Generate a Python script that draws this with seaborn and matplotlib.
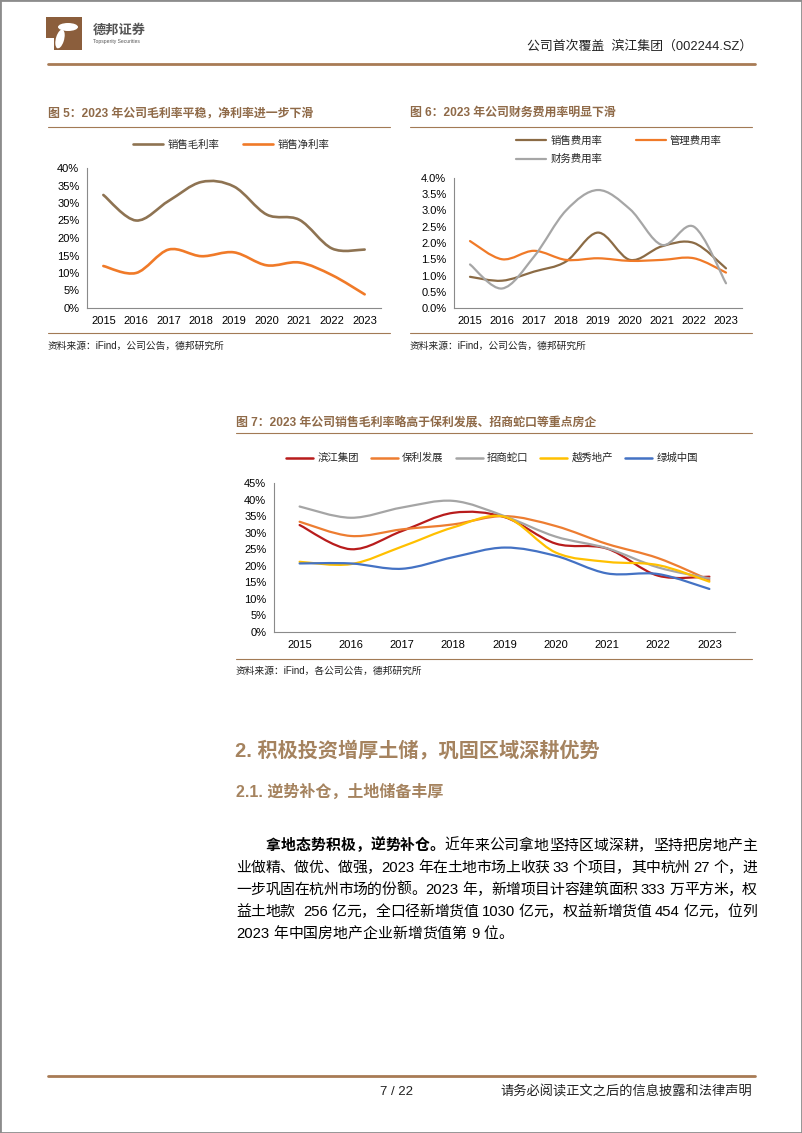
import re
import numpy as np
import pandas as pd
import seaborn as sns
import matplotlib.pyplot as plt
from matplotlib.lines import Line2D
from matplotlib.patches import Rectangle, Ellipse
from matplotlib.path import Path
from matplotlib.patheffects import AbstractPathEffect
from matplotlib.transforms import IdentityTransform
from matplotlib.ticker import FuncFormatter

# ---- data ----
years = [2015, 2016, 2017, 2018, 2019, 2020, 2021, 2022, 2023]

# fig 5: margins (%)
gross_margin = [32.3, 25.0, 30.6, 36.0, 34.7, 26.7, 25.2, 17.0, 16.7]
net_margin = [12.0, 10.0, 16.7, 14.8, 15.9, 12.2, 13.0, 9.4, 3.9]

# fig 6: expense ratios (%)
selling_exp = [0.96, 0.84, 1.12, 1.43, 2.32, 1.48, 1.90, 2.00, 1.22]
admin_exp = [2.06, 1.50, 1.76, 1.48, 1.53, 1.45, 1.48, 1.53, 1.09]
finance_exp = [1.34, 0.60, 1.58, 3.00, 3.63, 3.04, 1.94, 2.50, 0.76]

# fig 7: gross margin of peers (%)
binjiang = [32.3, 25.0, 30.5, 36.0, 34.7, 26.7, 25.2, 17.0, 16.7]
poly = [33.3, 29.0, 31.0, 32.5, 35.0, 32.0, 26.6, 22.3, 15.7]
cmsk = [37.9, 34.5, 37.6, 39.6, 35.0, 28.8, 25.3, 19.5, 16.2]
yuexiu = [21.2, 20.5, 25.8, 31.6, 34.8, 24.0, 21.2, 20.2, 15.2]
greentown = [20.7, 20.7, 19.1, 22.6, 25.5, 23.0, 17.7, 17.5, 13.0]

fig5_names = ['销售毛利率', '销售净利率']
fig6_names = ['销售费用率', '管理费用率', '财务费用率']
fig7_names = ['滨江集团', '保利发展', '招商蛇口', '越秀地产', '绿城中国']

BROWN = '#A27A55'
TITLE_C = '#8F6A48'
HEAD_C = '#A5835F'

sns.set_style('white')
plt.rcParams['font.family'] = ['Liberation Sans', 'Noto Sans CJK SC', 'DejaVu Sans']


class Smooth(AbstractPathEffect):
    """Draw a polyline as an Excel-like smoothed curve (Catmull-Rom Bezier)."""
    def draw_path(self, renderer, gc, tpath, affine, rgbFace=None):
        pts = affine.transform(tpath.vertices)
        n = len(pts)
        if n < 3:
            renderer.draw_path(gc, tpath, affine, rgbFace)
            return
        verts = [pts[0]]
        codes = [Path.MOVETO]
        for i in range(n - 1):
            p0 = pts[max(i - 1, 0)]
            p1 = pts[i]
            p2 = pts[i + 1]
            p3 = pts[min(i + 2, n - 1)]
            verts += [p1 + (p2 - p0) / 6, p2 - (p3 - p1) / 6, p2]
            codes += [Path.CURVE4] * 3
        renderer.draw_path(gc, Path(np.array(verts), codes), IdentityTransform(), rgbFace)


W, H = 802, 1133
fig = plt.figure(figsize=(W / 100, H / 100), dpi=100)
renderer = fig.canvas.get_renderer()


def fx(px):
    return px / W


def fy(py):
    return 1 - py / H


def rule(y, x0, x1, color=BROWN, lw=0.8):
    fig.add_artist(Line2D([fx(x0), fx(x1)], [fy(y), fy(y)], color=color, lw=lw,
                          transform=fig.transFigure))


def style_axes(ax, ymax, ystep, fmt):
    ax.set_xlim(years[0] - 0.5, years[-1] + 0.5)
    ax.set_ylim(0, ymax)
    ax.set_yticks(np.arange(0, ymax + ystep / 2, ystep))
    ax.yaxis.set_major_formatter(FuncFormatter(lambda v, p: fmt % v))
    ax.set_xticks(years)
    ax.set_xticks([y + 0.5 for y in years], minor=True)
    ax.tick_params(axis='x', which='major', length=0, pad=6, labelsize=8, colors='black')
    ax.tick_params(axis='x', which='minor', length=3, direction='in', color='#8a8a8a', width=0.7)
    ax.tick_params(axis='y', length=3, direction='out', pad=2.5, labelsize=8,
                   color='#8a8a8a', width=0.7, labelcolor='black')
    ax.set_xlabel('')
    ax.set_ylabel('')
    sns.despine(ax=ax)
    for s in ['left', 'bottom']:
        ax.spines[s].set_color('#8a8a8a')
        ax.spines[s].set_linewidth(0.8)
    for ln in ax.lines:
        ln.set_path_effects([Smooth()])
        ln.set_solid_capstyle('round')


def draw_lines(ax, names, series, colors, lw):
    df = pd.DataFrame({'year': years * len(names),
                       'value': sum(series, []),
                       'series': np.repeat(names, len(years))})
    sns.lineplot(data=df, x='year', y='value', hue='series', hue_order=names,
                 palette=dict(zip(names, colors)), linewidth=lw, legend=False, ax=ax)


def legend(names, colors, cx, cy, ncol, hl, cs, lw, order=None):
    handles = [Line2D([], [], color=c, lw=lw) for c in colors]
    labels = list(names)
    if order is not None:
        handles = [handles[i] for i in order]
        labels = [labels[i] for i in order]
    fig.legend(handles, labels, loc='center', bbox_to_anchor=(fx(cx), fy(cy)),
               ncol=ncol, frameon=False, fontsize=7.5, handlelength=hl,
               handletextpad=0.4, columnspacing=cs, labelspacing=0.8)


def justify(y, x0, x1, segments, size, stretch=True):
    """Lay a line of mixed CJK/latin text out token by token, justified to x0..x1."""
    em = size * 100 / 72
    items = []
    for text, weight in segments:
        for tok in re.findall(r'[A-Za-z0-9.]+| +|.', text):
            if tok.strip() == '':
                items.append((None, 0.28 * em * len(tok)))
            else:
                t = fig.text(0, fy(y), tok, fontsize=size, fontweight=weight,
                             color='black', va='center', ha='left')
                items.append((t, t.get_window_extent(renderer).width))
    total = sum(w for _, w in items)
    gap = (x1 - x0 - total) / (len(items) - 1) if stretch else 0.0
    x = x0
    for t, w in items:
        if t is not None:
            t.set_x(fx(x))
        x += w + gap


# ---- page frame, header, footer ----
fig.add_artist(Rectangle((0, 0), 1, 1, transform=fig.transFigure, fill=False,
                         edgecolor='#8c8c8c', lw=2))
fig.add_artist(Rectangle((fx(46), fy(50)), fx(82) - fx(46), fy(17) - fy(50),
                         transform=fig.transFigure, color='#8B5E3C', lw=0))
fig.add_artist(Ellipse((fx(68), fy(27)), fx(20) - fx(0), fy(0) - fy(8),
                       transform=fig.transFigure, color='white', lw=0))
fig.add_artist(Ellipse((fx(60), fy(39)), fx(8) - fx(0), fy(0) - fy(20), angle=-25,
                       transform=fig.transFigure, color='white', lw=0))
fig.add_artist(Rectangle((fx(46), fy(50)), fx(8) - fx(0), fy(0) - fy(12),
                         transform=fig.transFigure, color='white', lw=0))
fig.text(fx(93), fy(31), '德邦证券', fontsize=9.5, fontweight='bold', color='#555555',
         va='center', ha='left')
fig.text(fx(93), fy(42), 'Topsperity Securities', fontsize=3.6, color='#555555',
         va='center', ha='left')
fig.text(fx(752), fy(47), '公司首次覆盖  滨江集团（002244.SZ）', fontsize=9.3,
         color='#222222', va='center', ha='right')
rule(64, 48, 755, color='#A87B55', lw=2.0)

rule(1076, 48, 755, color='#A87B55', lw=2.0)
fig.text(fx(396), fy(1092), '7 / 22', fontsize=9.5, color='#222222', va='center', ha='center')
fig.text(fx(752), fy(1092), '请务必阅读正文之后的信息披露和法律声明', fontsize=9.5,
         color='#222222', va='center', ha='right')

# ---- figure 5 ----
fig.text(fx(48), fy(113), '图 5：2023 年公司毛利率平稳，净利率进一步下滑', fontsize=8.6,
         fontweight='bold', color=TITLE_C, va='center', ha='left')
rule(127, 48, 390)
c5 = ['#8E7352', '#F07A28']
ax1 = fig.add_axes([fx(87), fy(308), fx(381) - fx(87), fy(168) - fy(308)])
draw_lines(ax1, fig5_names, [gross_margin, net_margin], c5, 1.9)
style_axes(ax1, 40, 5, '%d%%')
legend(fig5_names, c5, 231, 145, 2, 2.9, 2.3, 1.9)
rule(333, 48, 390)
fig.text(fx(48), fy(346), '资料来源：iFind，公司公告，德邦研究所', fontsize=7,
         color='#222222', va='center', ha='left')

# ---- figure 6 ----
fig.text(fx(410), fy(113), '图 6：2023 年公司财务费用率明显下滑', fontsize=8.6,
         fontweight='bold', color=TITLE_C, va='center', ha='left')
rule(127, 410, 752)
c6 = ['#8B6B45', '#F07A28', '#A6A6A6']
ax2 = fig.add_axes([fx(454), fy(308), fx(742) - fx(454), fy(178) - fy(308)])
draw_lines(ax2, fig6_names, [selling_exp, admin_exp, finance_exp], c6, 1.6)
style_axes(ax2, 4.0, 0.5, '%.1f%%')
legend(fig6_names, c6, 619, 150, 2, 2.9, 3.2, 1.6, order=[0, 2, 1])
rule(333, 410, 752)
fig.text(fx(410), fy(346), '资料来源：iFind，公司公告，德邦研究所', fontsize=7,
         color='#222222', va='center', ha='left')

# ---- figure 7 ----
fig.text(fx(236), fy(423), '图 7：2023 年公司销售毛利率略高于保利发展、招商蛇口等重点房企',
         fontsize=8.6, fontweight='bold', color=TITLE_C, va='center', ha='left')
rule(433, 236, 752)
c7 = ['#B81C1C', '#ED7D31', '#A5A5A5', '#FFC000', '#4472C4']
ax3 = fig.add_axes([fx(274), fy(632), fx(735) - fx(274), fy(483) - fy(632)])
draw_lines(ax3, fig7_names, [binjiang, poly, cmsk, yuexiu, greentown], c7, 1.6)
style_axes(ax3, 45, 5, '%d%%')
legend(fig7_names, c7, 492, 458, 5, 2.6, 1.15, 1.8)
rule(659, 236, 752)
fig.text(fx(236), fy(671), '资料来源：iFind，各公司公告，德邦研究所', fontsize=7,
         color='#222222', va='center', ha='left')

# ---- section text ----
fig.text(fx(235), fy(750), '2. 积极投资增厚土储，巩固区域深耕优势', fontsize=14.5,
         fontweight='bold', color=HEAD_C, va='center', ha='left')
fig.text(fx(236), fy(792), '2.1. 逆势补仓，土地储备丰厚', fontsize=11.5,
         fontweight='bold', color=HEAD_C, va='center', ha='left')

body_size = 10.7
justify(846, 266, 757, [('拿地态势积极，逆势补仓。', 'bold'),
                        ('近年来公司拿地坚持区域深耕，坚持把房地产主', 'normal')], body_size)
body_lines = [
    '业做精、做优、做强，2023 年在土地市场上收获 33 个项目，其中杭州 27 个，进',
    '一步巩固在杭州市场的份额。2023 年，新增项目计容建筑面积 333 万平方米，权',
    '益土地款  256 亿元，全口径新增货值 1030 亿元，权益新增货值 454 亿元，位列',
]
for i, line in enumerate(body_lines):
    justify(868 + 22 * i, 236, 757, [(line, 'normal')], body_size)
justify(934, 236, 757, [('2023 年中国房地产企业新增货值第 9 位。', 'normal')], body_size,
        stretch=False)

fig.savefig('out.png', dpi=100)
